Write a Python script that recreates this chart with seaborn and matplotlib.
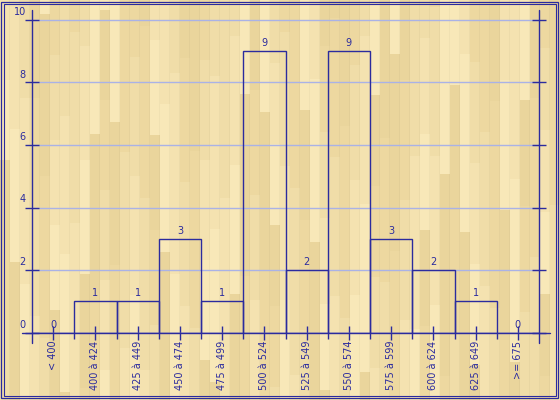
import numpy as np
import matplotlib
matplotlib.use("Agg")
import matplotlib.pyplot as plt
from matplotlib.patches import Rectangle
from matplotlib.ticker import FixedLocator
import seaborn as sns

categories = ["< 400", "400 à 424", "425 à 449", "450 à 474", "475 à 499",
              "500 à 524", "525 à 549", "550 à 574", "575 à 599", "600 à 624",
              "625 à 649", ">= 675"]
counts = [0, 1, 1, 3, 1, 9, 2, 9, 3, 2, 1, 0]
y_ticks = [0, 2, 4, 6, 8, 10]

BLUE = "#2B2B9E"
GRID = "#AAB2E6"

sns.set_theme(style="white")
plt.rcParams["font.family"] = ["DejaVu Sans"]

fig = plt.figure(figsize=(5.6, 4.0), dpi=100)

# wood-like background (deterministic plank pattern)
H, W = 400, 560
tones = np.array([[244, 226, 176], [237, 216, 160], [248, 232, 184],
                  [240, 221, 168], [234, 213, 156]]) / 255.0
img = np.zeros((H, W, 3))
pw = 10
yy = np.arange(H)
for i in range(W // pw + 1):
    off = (i * 137) % 400
    seg_len = 80 + (i * 53) % 130
    seg = (yy + off) // seg_len
    idx = (i * 3 + seg * 2) % len(tones)
    cols = tones[idx]
    x0, x1 = i * pw, min((i + 1) * pw, W)
    img[:, x0:x1, :] = cols[:, None, :]
    if x1 < W:
        img[:, x1 - 1, :] = img[:, x1 - 1, :] * 0.97
bg = fig.add_axes([0, 0, 1, 1], zorder=-10)
bg.imshow(img, aspect="auto", interpolation="nearest")
bg.set_axis_off()

# double frame
fig.patches.append(Rectangle((1.0 / W, 2.0 / H), 557.0 / W, 396.0 / H, transform=fig.transFigure,
                             fill=False, edgecolor=BLUE, lw=0.9, zorder=5))
fig.patches.append(Rectangle((3.5 / W, 4.0 / H), 552.5 / W, 392.0 / H, transform=fig.transFigure,
                             fill=False, edgecolor=BLUE, lw=0.8, zorder=5))

ax = fig.add_axes([32 / W, (H - 332.5) / H, 507 / W, 322.5 / H])
ax.set_facecolor("none")

sns.barplot(x=categories, y=counts, order=categories, fill=False, color=BLUE,
            linewidth=1.0, width=1.0, errorbar=None, ax=ax)
for p in ax.patches:
    p.set_edgecolor(BLUE)
    p.set_facecolor("none")
ax.bar_label(ax.containers[0], labels=[str(c) for c in counts], padding=2,
             color=BLUE, fontsize=7)

ax.set_xlim(-0.5, len(categories) - 0.5)
ax.set_ylim(0, 10.32)
ax.set_xlabel("")
ax.set_ylabel("")

for s in ax.spines.values():
    s.set_visible(False)

ax.set_yticks(y_ticks)
ax.set_yticklabels([])
ax.yaxis.grid(True, color=GRID, lw=1)
ax.xaxis.grid(False)
ax.set_axisbelow(True)
ax.tick_params(axis="y", which="major", direction="inout", length=10, width=1,
               color=BLUE, left=True, right=True, labelleft=False)
for v in y_ticks:
    ax.annotate(str(v), xy=(0, v), xycoords=("axes fraction", "data"),
                xytext=(-6, 3), textcoords="offset pixels", ha="right", va="bottom",
                color=BLUE, fontsize=7)

ax.set_xticks(range(len(categories)))
ax.set_xticklabels(categories, rotation=90, color=BLUE, fontsize=7)
ax.xaxis.set_minor_locator(FixedLocator([i + 0.5 for i in range(len(categories) - 1)]))
ax.tick_params(axis="x", which="major", direction="inout", length=10, width=1,
               color=BLUE, pad=1, bottom=True)
ax.tick_params(axis="x", which="minor", direction="out", length=4, width=1,
               color=BLUE, bottom=True)

# axes lines
ax.axvline(-0.5, ymin=-10 / 322.5, ymax=1.0, color=BLUE, lw=1.0, clip_on=False)
ax.axvline(len(categories) - 0.5, ymin=-10 / 322.5, ymax=1.0, color=BLUE, lw=1.0, clip_on=False)
ax.axhline(0, xmin=-10 / 507, xmax=1 + 11 / 507, color=BLUE, lw=1.0, clip_on=False)

fig.savefig("out.png", dpi=100)
